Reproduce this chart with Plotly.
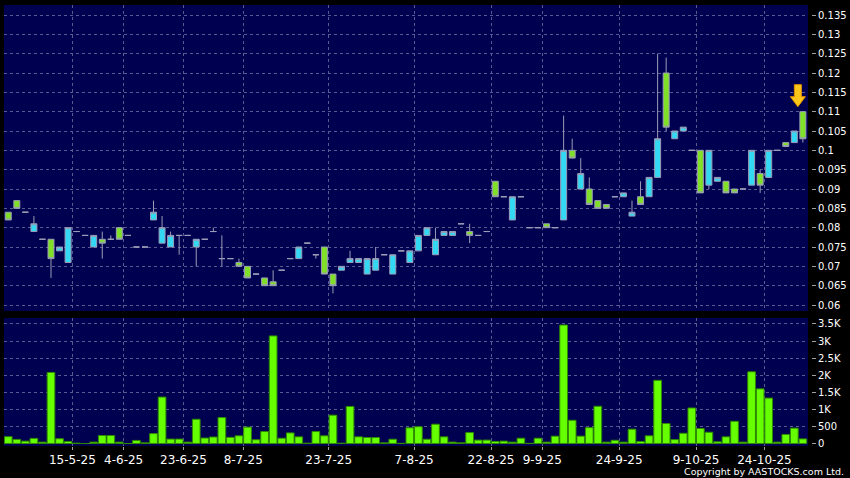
import plotly.graph_objects as go

# ---------------- data ----------------
opens = [0.084, 0.087, 0.084, 0.079, 0.077, 0.077, 0.074, 0.071, 0.079, 0.078,
         0.075, 0.077, 0.077, 0.080, 0.078, 0.075, 0.075, 0.082, 0.076, 0.075,
         0.078, 0.078, 0.075, 0.077, 0.079, 0.072, 0.072, 0.071, 0.070, 0.068,
         0.067, 0.066, 0.069, 0.072, 0.072, 0.076, 0.073, 0.075, 0.068, 0.069,
         0.071, 0.071, 0.068, 0.069, 0.073, 0.068, 0.074, 0.071, 0.074, 0.078,
         0.073, 0.078, 0.078, 0.081, 0.079, 0.078, 0.079, 0.092, 0.088, 0.082,
         0.088, 0.080, 0.080, 0.081, 0.080, 0.082, 0.100, 0.090, 0.090, 0.087,
         0.086, 0.088, 0.088, 0.083, 0.088, 0.088, 0.093, 0.120, 0.103, 0.105,
         0.100, 0.100, 0.091, 0.092, 0.092, 0.090, 0.090, 0.091, 0.094, 0.093,
         0.100, 0.102, 0.102, 0.110]
highs = [0.084, 0.087, 0.084, 0.083, 0.077, 0.077, 0.075, 0.080, 0.079, 0.078,
         0.078, 0.079, 0.078, 0.080, 0.078, 0.075, 0.075, 0.087, 0.083, 0.079,
         0.078, 0.078, 0.077, 0.077, 0.080, 0.078, 0.072, 0.072, 0.070, 0.068,
         0.067, 0.069, 0.069, 0.072, 0.075, 0.076, 0.073, 0.075, 0.068, 0.070,
         0.074, 0.072, 0.072, 0.075, 0.073, 0.073, 0.074, 0.074, 0.078, 0.080,
         0.080, 0.079, 0.079, 0.081, 0.081, 0.078, 0.079, 0.092, 0.088, 0.088,
         0.088, 0.080, 0.080, 0.081, 0.080, 0.109, 0.103, 0.098, 0.093, 0.087,
         0.086, 0.088, 0.089, 0.087, 0.092, 0.093, 0.125, 0.124, 0.105, 0.106,
         0.100, 0.100, 0.100, 0.093, 0.092, 0.090, 0.090, 0.100, 0.095, 0.100,
         0.100, 0.102, 0.105, 0.110]
lows = [0.082, 0.085, 0.084, 0.079, 0.077, 0.067, 0.074, 0.071, 0.079, 0.078,
        0.075, 0.072, 0.077, 0.077, 0.078, 0.075, 0.075, 0.082, 0.076, 0.075,
        0.073, 0.078, 0.070, 0.077, 0.079, 0.070, 0.072, 0.070, 0.067, 0.068,
        0.065, 0.065, 0.069, 0.072, 0.072, 0.076, 0.072, 0.068, 0.063, 0.069,
        0.071, 0.071, 0.068, 0.069, 0.073, 0.068, 0.074, 0.071, 0.074, 0.078,
        0.073, 0.078, 0.078, 0.081, 0.076, 0.078, 0.079, 0.088, 0.088, 0.082,
        0.088, 0.080, 0.080, 0.080, 0.080, 0.082, 0.098, 0.090, 0.086, 0.085,
        0.085, 0.088, 0.088, 0.083, 0.086, 0.088, 0.093, 0.105, 0.103, 0.105,
        0.100, 0.089, 0.090, 0.092, 0.089, 0.089, 0.090, 0.091, 0.089, 0.093,
        0.100, 0.101, 0.102, 0.102]
closes = [0.082, 0.085, 0.084, 0.081, 0.077, 0.072, 0.075, 0.080, 0.079, 0.078,
          0.078, 0.076, 0.077, 0.077, 0.078, 0.075, 0.075, 0.084, 0.080, 0.078,
          0.078, 0.078, 0.077, 0.077, 0.079, 0.072, 0.072, 0.070, 0.067, 0.068,
          0.065, 0.065, 0.069, 0.072, 0.075, 0.076, 0.073, 0.068, 0.065, 0.070,
          0.072, 0.072, 0.072, 0.072, 0.073, 0.073, 0.074, 0.074, 0.078, 0.080,
          0.077, 0.079, 0.079, 0.081, 0.078, 0.078, 0.079, 0.088, 0.088, 0.088,
          0.088, 0.080, 0.080, 0.080, 0.080, 0.100, 0.098, 0.094, 0.086, 0.085,
          0.085, 0.088, 0.089, 0.084, 0.086, 0.093, 0.103, 0.106, 0.105, 0.106,
          0.100, 0.089, 0.100, 0.093, 0.089, 0.089, 0.090, 0.100, 0.091, 0.100,
          0.100, 0.101, 0.105, 0.103]
volumes = [200, 120, 70, 150, 40, 2080, 140, 60, 10, 0,
           40, 235, 235, 40, 0, 90, 20, 290, 1360, 130,
           130, 40, 710, 160, 190, 760, 180, 225, 480, 110,
           350, 3150, 155, 310, 195, 10, 350, 225, 830, 10,
           1085, 195, 175, 175, 20, 125, 5, 460, 490, 125,
           565, 195, 40, 20, 320, 100, 100, 60, 70, 40,
           155, 5, 155, 40, 215, 3470, 680, 215, 465, 1090,
           40, 95, 40, 420, 60, 225, 1850, 585, 115, 300,
           1040, 440, 330, 50, 195, 650, 40, 2100, 1600, 1330,
           40, 265, 450, 135]

date_label_index = [7, 13, 20, 27, 37, 47, 56, 62, 71, 80, 88]
date_labels = ["15-5-25", "4-6-25", "23-6-25", "8-7-25", "23-7-25", "7-8-25",
               "22-8-25", "9-9-25", "24-9-25", "9-10-25", "24-10-25"]
price_ticks = [0.06, 0.065, 0.07, 0.075, 0.08, 0.085, 0.09, 0.095, 0.1,
               0.105, 0.11, 0.115, 0.12, 0.125, 0.13, 0.135]
price_labels = ["0.06", "0.065", "0.07", "0.075", "0.08", "0.085", "0.09", "0.095",
                "0.1", "0.105", "0.11", "0.115", "0.12", "0.125", "0.13", "0.135"]
vol_ticks = [0, 500, 1000, 1500, 2000, 2500, 3000, 3500]
vol_labels = ["0", "500", "1K", "1.5K", "2K", "2.5K", "3K", "3.5K"]

# ---------------- figure ----------------
W, H = 850, 478
idx = list(range(len(opens)))
tickpos = [i + 0.5 for i in date_label_index]

FONT = "DejaVu Sans, sans-serif"
GRID = "#5a5a92"
BG = "#000050"

fig = go.Figure()
fig.add_trace(go.Candlestick(
    x=idx, open=opens, high=highs, low=lows, close=closes,
    xaxis="x", yaxis="y", whiskerwidth=0,
    increasing=dict(fillcolor="#33d8f2", line=dict(color="#9c9cb8", width=1)),
    decreasing=dict(fillcolor="#80e028", line=dict(color="#9c9cb8", width=1)),
    showlegend=False, hoverinfo="skip"))
fig.add_trace(go.Bar(
    x=idx, y=volumes, xaxis="x2", yaxis="y2",
    marker=dict(color="#66ff00", line=dict(color="#2f8a00", width=1)),
    showlegend=False, hoverinfo="skip"))

xdom = [4 / W, 808 / W]
xrange_ = [-0.5, 93.6]
yax_pos = 811 / W

fig.update_layout(
    width=W, height=H,
    margin=dict(l=0, r=0, t=0, b=0, pad=0, autoexpand=False),
    paper_bgcolor="black", plot_bgcolor=BG,
    font=dict(family=FONT, color="white"),
    bargap=0.1, boxgap=0.3, boxgroupgap=0,
    xaxis=dict(domain=xdom, anchor="y", range=xrange_, tickvals=tickpos,
               showticklabels=False, ticks="", showgrid=True, gridcolor=GRID,
               griddash="3px,3px", gridwidth=1, zeroline=False, showline=False,
               rangeslider=dict(visible=False)),
    yaxis=dict(domain=[(H - 311) / H, (H - 5) / H], range=[0.05845, 0.13759],
               side="right", anchor="free", position=yax_pos,
               tickvals=price_ticks, ticktext=price_labels,
               ticks="outside", ticklen=4, tickcolor="#a0a0a0",
               tickfont=dict(size=10, color="white", family=FONT),
               showgrid=True, gridcolor=GRID, griddash="3px,3px",
               zeroline=False, showline=False),
    xaxis2=dict(domain=xdom, anchor="y2", range=xrange_, tickvals=tickpos,
                ticktext=date_labels, ticks="outside", ticklen=3,
                tickcolor="#a0a0a0", tickfont=dict(size=12, color="white", family=FONT),
                ticklabelstandoff=0,
                showgrid=True, gridcolor=GRID, griddash="3px,3px",
                zeroline=False, showline=False),
    yaxis2=dict(domain=[(H - 446) / H, (H - 318) / H], range=[-73, 3675],
                side="right", anchor="free", position=yax_pos,
                tickvals=vol_ticks, ticktext=vol_labels,
                ticks="outside", ticklen=4, tickcolor="#a0a0a0",
                tickfont=dict(size=10, color="white", family=FONT),
                showgrid=True, gridcolor=GRID, griddash="3px,3px",
                zeroline=False, showline=False),
)

# latest-price marker arrow above the last candle
fig.add_shape(type="path", xref="x", yref="y",
              xsizemode="pixel", ysizemode="pixel",
              xanchor=idx[-1], yanchor=highs[-1],
              path="M -5,5 L -12.5,15 L -8.5,15 L -8.5,27 L -1.5,27 L -1.5,15 L 2.5,15 Z",
              fillcolor="#ffc61a", line=dict(color="#e09400", width=1))

fig.add_annotation(text="Copyright by AASTOCKS.com Ltd.", xref="paper", yref="paper",
                   x=1, y=0, xanchor="right", yanchor="bottom", showarrow=False,
                   xshift=-4, yshift=-1,
                   font=dict(size=9.5, color="white", family=FONT))

fig.write_html("out.html", config={"displayModeBar": False},
               post_script="document.body.style.margin='0';"
                           "document.body.style.background='black';")
